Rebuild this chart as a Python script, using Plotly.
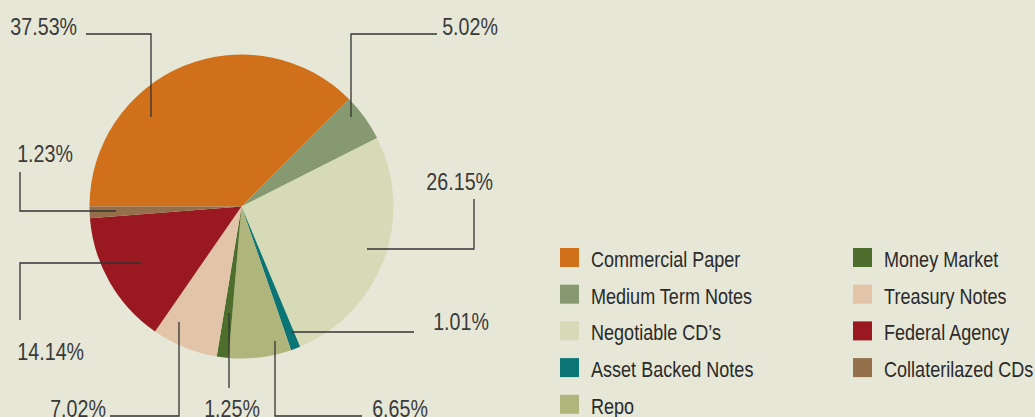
import json
import plotly.graph_objects as go

# ---- data ----
categories = ["Commercial Paper", "Medium Term Notes", "Negotiable CD\u2019s",
              "Asset Backed Notes", "Repo", "Money Market", "Treasury Notes",
              "Federal Agency", "Collaterilazed CDs"]
values = [37.53, 5.02, 26.15, 1.01, 6.65, 1.25, 7.02, 14.14, 1.23]
pct_labels = ["37.53%", "5.02%", "26.15%", "1.01%", "6.65%", "1.25%", "7.02%", "14.14%", "1.23%"]

# ---- styles ----
colors = ["#D0701B", "#879970", "#D6DAB7", "#0A7574", "#B0B57C",
          "#4E6E2E", "#E2C4A9", "#9A1920", "#93704A"]
BG = "#E6E7D7"
FONT = "Liberation Sans, Arial, sans-serif"
W, H = 1035, 417
NARROW = 0.82  # horizontal condensing of text (reference uses a condensed face)

# leader-line layout (pixel coords): polyline points and label text position
leaders = [
    dict(pts=[(151, 117), (151, 34), (86, 34)], txt=(43, 26)),
    dict(pts=[(351, 117), (351, 34), (437, 34)], txt=(470, 26)),
    dict(pts=[(367, 249), (474, 249), (474, 199)], txt=(459, 181)),
    dict(pts=[(292, 332), (414, 332)], txt=(461, 321)),
    dict(pts=[(275, 341), (275, 416), (362, 416)], txt=(400, 408)),
    dict(pts=[(229, 313), (229, 388)], txt=(232, 408)),
    dict(pts=[(179, 322), (179, 416), (110, 416)], txt=(78, 408)),
    dict(pts=[(141, 263), (20, 263), (20, 320)], txt=(50, 351)),
    dict(pts=[(116, 211), (20, 211), (20, 172)], txt=(45, 154)),
]

cx, cy, r = 241.5, 206.5, 152

fig = go.Figure(go.Pie(
    labels=categories, values=values, sort=False, direction="clockwise",
    rotation=-90, textinfo="none", hoverinfo="label+percent",
    marker=dict(colors=colors, line=dict(width=0)),
    showlegend=False,
    domain=dict(x=[(cx - r) / W, (cx + r) / W], y=[(H - cy - r) / H, (H - cy + r) / H]),
))


def px(x):
    return x / W


def py(y):
    return 1 - y / H


shapes = []
annotations = []
origins = []
for lab, ld in zip(pct_labels, leaders):
    p = ld["pts"]
    path = "M " + " L ".join(f"{px(a):.5f},{py(b):.5f}" for a, b in p)
    shapes.append(dict(type="path", xref="paper", yref="paper", path=path,
                       line=dict(color="#333333", width=1.3)))
    annotations.append(dict(x=px(ld["txt"][0]), y=py(ld["txt"][1]), xref="paper", yref="paper",
                            text=lab, showarrow=False, xanchor="center", yanchor="middle",
                            font=dict(family=FONT, size=24, color="#3a3a3a")))
    origins.append("center center")

# custom two-column legend
col_x = [560, 853]
row_y0, row_dy = 257.5, 36.7
per_col = 5
for i, (cat, col) in enumerate(zip(categories, colors)):
    c, rI = divmod(i, per_col)
    x0 = col_x[c]
    yc = row_y0 + rI * row_dy
    shapes.append(dict(type="rect", xref="paper", yref="paper",
                       x0=px(x0), x1=px(x0 + 19), y0=py(yc + 9.5), y1=py(yc - 9.5),
                       fillcolor=col, line=dict(width=0)))
    annotations.append(dict(x=px(x0 + 29), y=py(yc + 2), xref="paper", yref="paper",
                            text=cat, showarrow=False, xanchor="left", yanchor="middle",
                            font=dict(family=FONT, size=22, color="#2a2a2a")))
    origins.append("left center")

fig.update_layout(
    width=W, height=H, margin=dict(l=0, r=0, t=0, b=0),
    paper_bgcolor=BG, plot_bgcolor=BG,
    shapes=shapes, annotations=annotations,
)

post = """
document.body.style.margin = '0';
document.body.style.background = '%s';
var gd = document.getElementById('{plot_id}');
var ORIG = %s;
function condense() {
  var anns = gd.querySelectorAll('g.annotation');
  anns.forEach(function (g) {
    var idx = parseInt(g.getAttribute('data-index'));
    var t = g.querySelector('text.annotation-text');
    if (!t) return;
    t.style.transformBox = 'fill-box';
    t.style.transformOrigin = ORIG[idx] || 'center center';
    t.style.transform = 'scaleX(%s)';
  });
}
condense();
if (gd.on) gd.on('plotly_afterplot', condense);
""" % (BG, json.dumps(origins), NARROW)

fig.write_html("out.html", post_script=post, config={"displayModeBar": False})
